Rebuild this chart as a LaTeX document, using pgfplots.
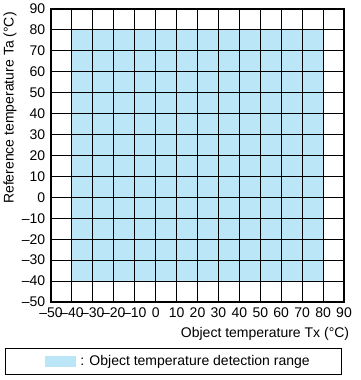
\documentclass[border=0pt]{standalone}
\usepackage{fontspec}
\setmainfont{Liberation Sans}
\usepackage{pgfplots}
\pgfplotsset{compat=1.18}
\definecolor{rangeblue}{RGB}{186,230,248}
\begin{document}
\fontsize{14}{16}\selectfont
\begin{tikzpicture}
\begin{axis}[
  name=ax,
  scale only axis,
  width=293pt, height=293pt,
  xmin=-50, xmax=90, ymin=-50, ymax=90,
  xtick={-50,-40,...,90}, ytick={-50,-40,...,90},
  xticklabels={--50,--40,--30,--20,--10,0,10,20,30,40,50,60,70,80,90},
  yticklabels={--50,--40,--30,--20,--10,0,10,20,30,40,50,60,70,80,90},
  major tick length=0pt,
  grid=major,
  grid style={black, line width=0.9pt},
  axis line style={black, line width=1.1pt},
  axis on top=true,
  tick label style={font=\fontsize{14}{16}\selectfont},
  xticklabel style={inner xsep=0pt, yshift=-1pt},
  yticklabel style={xshift=-1pt},
  xlabel={Object temperature Tx (°C)},
  ylabel={Reference temperature Ta (°C)},
  label style={font=\fontsize{14}{16}\selectfont},
  xlabel style={at={(rel axis cs:1,0)}, anchor=north east, xshift=10pt, yshift=-20pt},
  ylabel style={at={(rel axis cs:0,0.662)}, anchor=center, yshift=41pt},
  legend style={at={(rel axis cs:0,0)}, anchor=north west, xshift=-46pt, yshift=-46pt,
    draw=black, line width=0.8pt, inner xsep=30pt, inner ysep=5pt,
    font=\fontsize{14}{16}\selectfont},
  legend image code/.code={\path (0pt,0pt) (43pt,0pt); \fill[rangeblue] (10pt,-5.5pt) rectangle (41pt,5.5pt);},
]
\addplot[fill=rangeblue, draw=none] coordinates {(-40,-40) (80,-40) (80,80) (-40,80) (-40,-40)} -- cycle;
\addlegendentry{: Object temperature detection range}
\end{axis}
\pgfresetboundingbox
\useasboundingbox ([shift={(-51pt,9pt)}]ax.north west) rectangle ++(360pt,-380pt);
\end{tikzpicture}
\end{document}
